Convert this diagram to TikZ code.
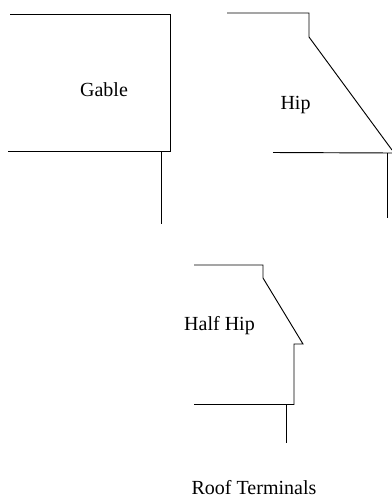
\documentclass[tikz,border=0pt]{standalone}
\usepackage{fontspec}
\setmainfont{Liberation Serif}

\begin{document}
\begin{tikzpicture}[x=0.75pt, y=-0.75pt, every node/.style={font=\fontsize{15}{18}\selectfont}, roofline/.style={-, line width=0.7pt, black}]
\useasboundingbox (0,0) rectangle (392,497);
% Draw gable
\draw[roofline](10,14) -- (170,14) -- (170,151.5) -- (8,151.5);
\draw[roofline](161,151.5) -- (161,224);
\node (gable) at (104,90) {Gable};
% Draw hip
\draw[roofline](227,13) -- (309,13) -- (309,37) -- (392,150);
\draw[roofline](273,152.5) -- (392,153);
\draw[roofline](387,153) -- (387,218);
\node (hip) at (295.5,105.5) {Hip};
% Draw half hip
\draw[roofline](194,265) -- (263,265) -- (263,278) -- (303,344) -- (294,344) -- (294,404.5) -- (194,404.5);
\draw[roofline](286,404.5) -- (286,443);
\node (halfhip) at (219.5,325.5) {Half Hip};
% Draw caption
\node (caption) at (254,487.5) {Roof Terminals};
\end{tikzpicture}
\end{document}
